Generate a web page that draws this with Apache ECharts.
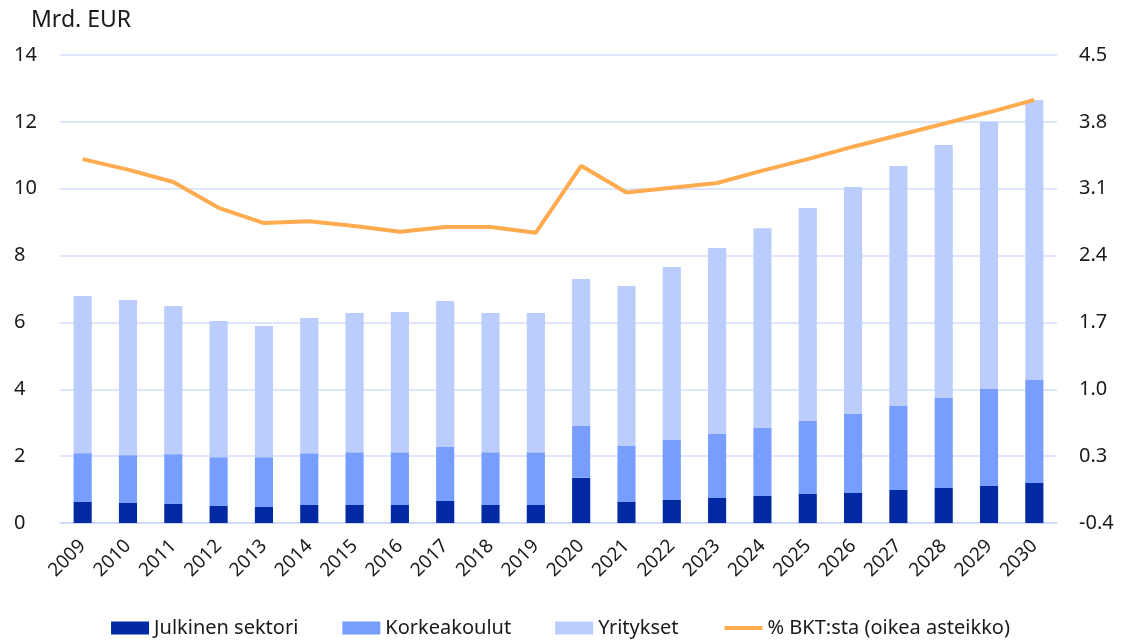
<!DOCTYPE html>
<html><head><meta charset="utf-8">
<script src="https://cdn.jsdelivr.net/npm/echarts@6/dist/echarts.min.js"></script>
<style>html,body{margin:0;padding:0;background:#fff}#c{width:1121px;height:641px}</style>
</head><body><div id="c"></div>
<script>
const years = ['2009','2010','2011','2012','2013','2014','2015','2016','2017','2018','2019','2020','2021','2022','2023','2024','2025','2026','2027','2028','2029','2030'];
const julkinen = [0.63,0.60,0.57,0.51,0.48,0.54,0.54,0.54,0.66,0.54,0.54,1.35,0.63,0.69,0.75,0.81,0.87,0.90,0.99,1.05,1.11,1.20];
const korkeakoulut = [1.46,1.43,1.49,1.46,1.49,1.55,1.58,1.58,1.61,1.58,1.58,1.55,1.67,1.79,1.91,2.03,2.18,2.36,2.51,2.69,2.90,3.08];
const yritykset = [4.70,4.64,4.43,4.07,3.92,4.04,4.16,4.19,4.37,4.16,4.16,4.40,4.79,5.18,5.57,5.98,6.37,6.79,7.18,7.57,7.99,8.37];
const bktOsuus = [3.41,3.30,3.17,2.90,2.74,2.76,2.71,2.65,2.70,2.70,2.64,3.34,3.06,3.11,3.16,3.29,3.41,3.54,3.66,3.78,3.90,4.03];
const names = ['Julkinen sektori','Korkeakoulut','Yritykset','% BKT:sta (oikea asteikko)'];

const FONT = 'Noto Sans';
const chart = echarts.init(document.getElementById('c'));
chart.setOption({
  animation:false,
  textStyle:{fontFamily:FONT,color:'#1a1a1a'},
  grid:{left:60,right:64,top:55,bottom:118},
  title:{text:'Mrd. EUR',left:26,top:4,textStyle:{fontFamily:FONT,fontSize:23,fontWeight:'normal',color:'#1a1a1a'}},
  legend:{bottom:-2,left:'center',itemWidth:38,itemHeight:13,itemGap:44,
    textStyle:{fontFamily:FONT,fontSize:20,color:'#1a1a1a'},
    data:[{name:names[0],icon:'rect'},{name:names[1],icon:'rect'},{name:names[2],icon:'rect'},
      {name:names[3],itemStyle:{opacity:0},lineStyle:{width:4,color:'#ffab4f'}}]},
  xAxis:{type:'category',data:years,
    axisLine:{lineStyle:{color:'#c9d7fb',width:1.5}},axisTick:{show:false},
    axisLabel:{rotate:45,fontSize:19,color:'#1a1a1a',margin:20,interval:0}},
  yAxis:[
    {type:'value',min:0,max:14,interval:2,
     axisLabel:{fontSize:20,color:'#1a1a1a',margin:46,align:'left',
       formatter:v=>String(v)},
     splitLine:{lineStyle:{color:'#d3defc',width:1.5}},axisLine:{show:false},axisTick:{show:false}},
    {type:'value',min:-0.4,max:4.5,alignTicks:true,position:'right',
     axisLabel:{fontSize:20,color:'#1a1a1a',margin:22,formatter:v=>v.toFixed(1)},
     splitLine:{show:false},axisLine:{show:false},axisTick:{show:false}}
  ],
  series:[
    {name:names[0],type:'bar',stack:'t',data:julkinen,barWidth:'40%',itemStyle:{color:'#0029a3'}},
    {name:names[1],type:'bar',stack:'t',data:korkeakoulut,itemStyle:{color:'#779dff'}},
    {name:names[2],type:'bar',stack:'t',data:yritykset,itemStyle:{color:'#bbcdfd'}},
    {name:names[3],type:'line',yAxisIndex:1,data:bktOsuus,symbol:'none',
     lineStyle:{color:'#ffab4f',width:4},itemStyle:{color:'#ffab4f'}}
  ]
});
</script></body></html>
